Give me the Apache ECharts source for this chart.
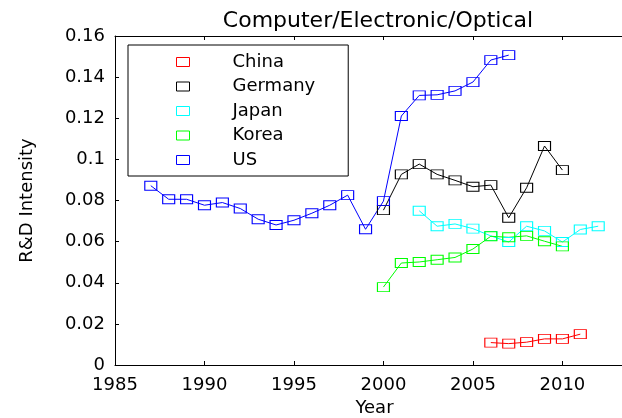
<!DOCTYPE html>
<html>
<head>
<meta charset="utf-8">
<script src="https://cdn.jsdelivr.net/npm/echarts@6/dist/echarts.min.js"></script>
<style>
  html, body { margin: 0; padding: 0; background: #fff; }
  #chart { width: 622px; height: 418px; }
</style>
</head>
<body>
<div id="chart"></div>
<script>
// values
const countries = ['China', 'Germany', 'Japan', 'Korea', 'US']
const colors = ['#ff0000', '#000000', '#00ffff', '#00ff00', '#0000ff']

const chinaYears = [2006, 2007, 2008, 2009, 2010, 2011]
const chinaValues = [0.0109, 0.0104, 0.0111, 0.0127, 0.0127, 0.0150]

const germanyYears = [2000, 2001, 2002, 2003, 2004, 2005, 2006, 2007, 2008, 2009, 2010]
const germanyValues = [0.0753, 0.0927, 0.0977, 0.0927, 0.0898, 0.0867, 0.0875, 0.0716, 0.0862, 0.1065, 0.0948]

const japanYears = [2002, 2003, 2004, 2005, 2006, 2007, 2008, 2009, 2010, 2011, 2012]
const japanValues = [0.0750, 0.0675, 0.0686, 0.0663, 0.0628, 0.0598, 0.0675, 0.0652, 0.0598, 0.0659, 0.0675]

const koreaYears = [2000, 2001, 2002, 2003, 2004, 2005, 2006, 2007, 2008, 2009, 2010]
const koreaValues = [0.0379, 0.0496, 0.0501, 0.0512, 0.0523, 0.0564, 0.0626, 0.0621, 0.0628, 0.0602, 0.0577]

const usYears = [1987, 1988, 1989, 1990, 1991, 1992, 1993, 1994, 1995, 1996, 1997, 1998, 1999, 2000, 2001, 2002, 2003, 2004, 2005, 2006, 2007]
const usValues = [0.0872, 0.0806, 0.0806, 0.0777, 0.0790, 0.0761, 0.0709, 0.0681, 0.0704, 0.0738, 0.0777, 0.0826, 0.0660, 0.0797, 0.1211, 0.1311, 0.1314, 0.1333, 0.1376, 0.1483, 0.1507]

const xTicks = [1985, 1990, 1995, 2000, 2005, 2010]
const yTicks = [0, 0.02, 0.04, 0.06, 0.08, 0.1, 0.12, 0.14, 0.16]

const seriesData = [
  [chinaYears, chinaValues],
  [germanyYears, germanyValues],
  [japanYears, japanValues],
  [koreaYears, koreaValues],
  [usYears, usValues]
]

const font = 'DejaVu Sans'

function pairs(xs, ys) {
  return xs.map((x, i) => [x, ys[i]])
}

const chart = echarts.init(document.getElementById('chart'))

const xBase = {
  type: 'value',
  min: xTicks[0],
  max: 2014,
  interval: 5,
  splitLine: { show: false },
  axisLine: { show: true, onZero: false, lineStyle: { color: '#000', width: 1 } },
  axisTick: { show: true, inside: true, length: 4, lineStyle: { color: '#000' } }
}

chart.setOption({
  animation: false,
  backgroundColor: '#fff',
  title: {
    text: 'Computer/Electronic/Optical',
    left: 373,
    top: 5,
    textAlign: 'center',
    textStyle: { fontFamily: font, fontSize: 22, fontWeight: 'normal', color: '#000' }
  },
  grid: { left: 115, right: -12, top: 36, bottom: 53, containLabel: false, outerBoundsMode: 'none' },
  legend: {
    orient: 'vertical',
    left: 128,
    top: 45,
    padding: [8, 33, 7, 48],
    itemWidth: 13,
    itemHeight: 9,
    itemGap: 6.5,
    backgroundColor: '#fff',
    borderColor: '#000',
    borderWidth: 1,
    borderRadius: 0,
    selectedMode: false,
    textStyle: { fontFamily: font, fontSize: 18, color: '#000', padding: [0, 0, 0, 38], lineHeight: 18 },
    data: countries.map((name, i) => ({
      name: name,
      icon: 'rect',
      itemStyle: { color: 'rgba(0,0,0,0)', borderColor: colors[i], borderWidth: 1 }
    }))
  },
  xAxis: [
    Object.assign({}, xBase, {
      position: 'bottom',
      name: 'Year',
      nameLocation: 'middle',
      nameGap: 31,
      nameTextStyle: { fontFamily: font, fontSize: 18, color: '#000' },
      axisLabel: {
        fontFamily: font, fontSize: 18, color: '#000', margin: 11,
        showMaxLabel: false,
        formatter: v => (xTicks.indexOf(v) >= 0 ? String(v) : '')
      }
    }),
    Object.assign({}, xBase, {
      position: 'top',
      axisLabel: { show: false }
    })
  ],
  yAxis: {
    type: 'value',
    min: yTicks[0],
    max: yTicks[yTicks.length - 1],
    interval: 0.02,
    name: 'R&D Intensity',
    nameLocation: 'middle',
    nameGap: 79,
    nameTextStyle: { fontFamily: font, fontSize: 18, color: '#000' },
    splitLine: { show: false },
    axisLine: { show: true, lineStyle: { color: '#000', width: 1 } },
    axisTick: { show: true, inside: true, length: 4, lineStyle: { color: '#000' } },
    axisLabel: {
      fontFamily: font, fontSize: 18, color: '#000', margin: 10,
      formatter: v => String(+v.toFixed(2))
    }
  },
  series: countries.map((name, i) => ({
    name: name,
    type: 'line',
    data: pairs(seriesData[i][0], seriesData[i][1]),
    symbol: 'rect',
    symbolSize: [12, 9],
    showSymbol: true,
    lineStyle: { color: colors[i], width: 1 },
    itemStyle: { color: 'rgba(0,0,0,0)', borderColor: colors[i], borderWidth: 1 },
    emphasis: { disabled: true },
    z: 2
  }))
})

window.addEventListener('resize', () => {
  chart.resize()
})
</script>
</body>
</html>
